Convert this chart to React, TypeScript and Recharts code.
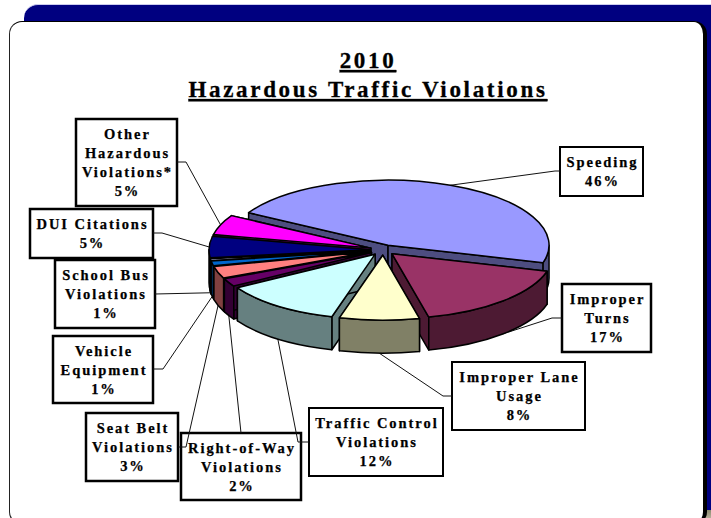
import React from "react";
import { PieChart, Pie } from "recharts";

const categories = [
  "Speeding",
  "Improper Turns",
  "Improper Lane Usage",
  "Traffic Control Violations",
  "Right-of-Way Violations",
  "Seat Belt Violations",
  "Vehicle Equipment",
  "School Bus Violations",
  "DUI Citations",
  "Other Hazardous Violations*",
];
// the 1% slices are not the same width in the picture, the labels still round to 1%
const shares = [46, 17, 8, 12, 2, 3, 1.2, 0.5, 5.3, 5];
const topColors = ["#9999FF", "#993366", "#FFFFCC", "#CCFFFF", "#660066", "#FF8080", "#0066CC", "#CCCCFF", "#000080", "#FF00FF"];
const sideColors = ["#4D4D80", "#4D1A33", "#808066", "#668080", "#330033", "#804040", "#003366", "#666680", "#000040", "#800080"];

// painted back to front
const drawOrder = [0, 9, 8, 7, 6, 5, 4, 3, 1, 2];

const labelLines = [
  ["Speeding"],
  ["Improper", "Turns"],
  ["Improper Lane", "Usage"],
  ["Traffic Control", "Violations"],
  ["Right-of-Way", "Violations"],
  ["Seat Belt", "Violations"],
  ["Vehicle", "Equipment"],
  ["School Bus", "Violations"],
  ["DUI Citations"],
  ["Other", "Hazardous", "Violations*"],
];

// x, y, w, h of each callout box
const boxes = [
  [560, 147, 83, 49],
  [562, 284, 89, 68],
  [452, 362, 133, 68],
  [309, 408, 134, 68],
  [181, 433, 120, 67],
  [86, 413, 92, 68],
  [53, 336, 100, 67],
  [55, 260, 100, 68],
  [30, 209, 123, 49],
  [76, 119, 101, 87],
];
const boxBorders = [2, 2.5, 2, 2, 2.5, 2.5, 2.5, 2.5, 2.5, 2.5];

// leader points from the pie rim out to the box
const leaders = [
  [[555, 171], [560, 171]],
  [[552, 318], [562, 318]],
  [[443, 396], [452, 396]],
  [[298, 442], [309, 442]],
  [[241, 433]],
  [[186, 447], [178, 447]],
  [[163, 369], [153, 369]],
  [[155, 294]],
  [[162, 233], [153, 233]],
  [[186, 162], [177, 162]],
];

const chartData = categories.map((name, i) => ({ name, value: shares[i], idx: i }));

const CX = 383;
const CY = 250;
const RADIUS = 161;
const TILT = 65 / 161;
const DEPTH = 33;
const EXPLODE = 13;

const rad = (d: number) => (d * Math.PI) / 180;

function Slice(props: any) {
  const { cx, cy, outerRadius: rx, startAngle, endAngle, midAngle } = props;
  const i = props.idx ?? props.payload?.idx;
  const ry = rx * TILT;
  const ax = cx + EXPLODE * Math.cos(rad(midAngle));
  const ay = cy - EXPLODE * TILT * Math.sin(rad(midAngle));
  const pt = (a: number, drop = 0) => [ax + rx * Math.cos(rad(a)), ay - ry * Math.sin(rad(a)) + drop];

  const [sx, sy] = pt(startAngle);
  const [ex, ey] = pt(endAngle);
  const large = startAngle - endAngle > 180 ? 1 : 0;
  const top = `M${ax},${ay} L${sx},${sy} A${rx},${ry} 0 ${large} 1 ${ex},${ey} Z`;

  const face = (x: number, y: number) =>
    `M${ax},${ay} L${x},${y} L${x},${y + DEPTH} L${ax},${ay + DEPTH} Z`;

  // only the part of the arc facing the viewer has a rim
  const rimFrom = Math.min(startAngle, 0);
  const rimTo = Math.max(endAngle, -180);
  let rim = null;
  if (rimFrom > rimTo) {
    const [x1, y1] = pt(rimFrom);
    const [x2, y2] = pt(rimTo);
    rim = `M${x1},${y1} A${rx},${ry} 0 0 1 ${x2},${y2} L${x2},${y2 + DEPTH} A${rx},${ry} 0 0 0 ${x1},${y1 + DEPTH} Z`;
  }

  // leaders hit the top edge at the back and the lower edge at the front
  const sinMid = Math.sin(rad(midAngle));
  const anchor = pt(midAngle, sinMid < 0 ? DEPTH : 0);
  const leader = [anchor, ...leaders[i]].map((p) => p.join(",")).join(" ");

  const line = { stroke: "#000", strokeWidth: 1.5, strokeLinejoin: "round" as const };
  return (
    <g>
      <polyline points={leader} fill="none" stroke="#111" strokeWidth={1} />
      <path d={face(sx, sy)} fill={sideColors[i]} {...line} />
      <path d={face(ex, ey)} fill={sideColors[i]} {...line} />
      {rim && <path d={rim} fill={sideColors[i]} {...line} />}
      <path d={top} fill={topColors[i]} {...line} />
    </g>
  );
}

function Callout({ index }: { index: number }) {
  const [x, y, w, h] = boxes[index];
  const border = boxBorders[index];
  const lines = [...labelLines[index], `${Math.round(shares[index])}%`];
  const mid = y + h / 2 + 5;
  const first = mid - ((lines.length - 1) * 19) / 2;
  return (
    <g>
      <rect x={x} y={y} width={w} height={h} fill="#fff" stroke="#000" strokeWidth={border} />
      <text
        textAnchor="middle"
        fontFamily="Liberation Serif"
        fontWeight="bold"
        fontSize={14.5}
        letterSpacing={1.95}
        stroke="#000"
        strokeWidth={0.25}
        fill="#000"
      >
        {lines.map((t, k) => (
          <tspan key={k} x={x + w / 2 + 1} y={first + k * 19}>
            {t}
          </tspan>
        ))}
      </text>
    </g>
  );
}

const titleStyle = {
  textAnchor: "middle" as const,
  fontFamily: "Liberation Serif",
  fontWeight: "bold" as const,
  fontSize: 23,
  letterSpacing: 2.68,
  textDecoration: "underline",
  stroke: "#000",
  strokeWidth: 0.3,
  fill: "#000",
};

export default function App() {
  return (
    <div style={{ position: "absolute", left: 0, top: 0, width: 711, height: 518, overflow: "hidden", background: "#fff" }}>
      <div style={{ position: "absolute", left: 24, top: 4, width: 720, height: 506, background: "#000080", borderTop: "1px solid #CCCCEE", borderRadius: "14px 0 0 0", boxSizing: "border-box" }} />
      <div style={{ position: "absolute", left: 706, top: 510, width: 5, height: 8, background: "linear-gradient(#8A8A70, #B8B09A)" }} />
      <div style={{ position: "absolute", left: 9, top: 21, width: 698, height: 504, background: "#fff", borderRadius: 13, border: "1px solid #000", borderLeft: "1.5px solid #222", borderRight: "4px solid #000", borderBottom: "2px solid #000", boxSizing: "border-box" }} />
      <div style={{ position: "absolute", left: 0, top: 0 }}>
        <PieChart width={711} height={518} margin={{ top: 0, right: 0, bottom: 0, left: 0 }}>
          <text x={368} y={68} style={titleStyle}>
            2010
          </text>
          <text x={368} y={97} style={titleStyle}>
            Hazardous Traffic Violations
          </text>
          {drawOrder.map((slot) => (
            <Pie
              key={slot}
              data={chartData}
              dataKey="value"
              nameKey="name"
              cx={CX}
              cy={CY}
              outerRadius={RADIUS}
              startAngle={150}
              endAngle={-210}
              labelLine={false}
              isAnimationActive={false}
              shape={(props: any) =>
                (props.idx ?? props.payload?.idx) === slot ? <Slice {...props} /> : <g />
              }
            />
          ))}
          {categories.map((_, i) => (
            <Callout key={i} index={i} />
          ))}
        </PieChart>
      </div>
    </div>
  );
}
